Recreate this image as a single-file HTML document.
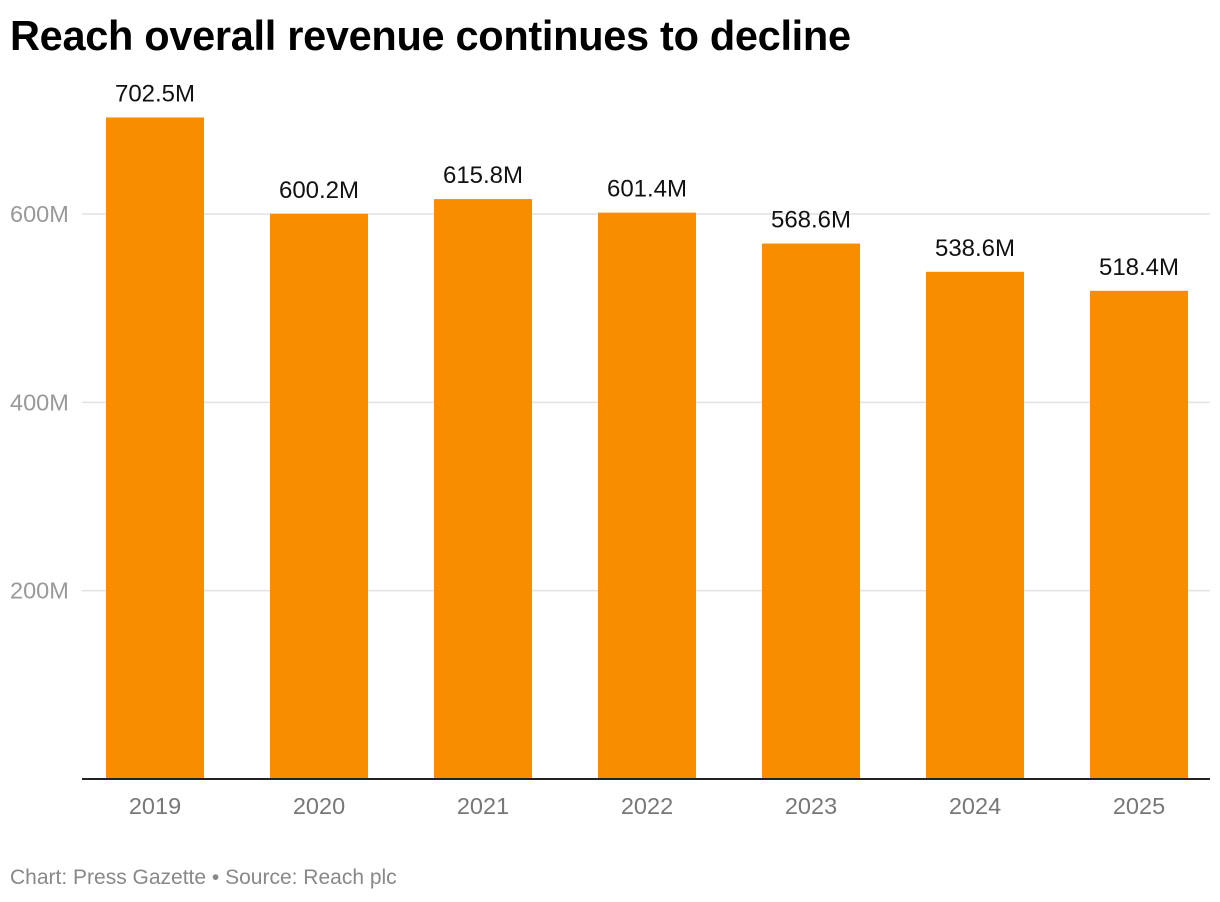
<!DOCTYPE html>
<html><head><meta charset="utf-8">
<style>
body{margin:0;background:#fff;width:1220px;height:902px;overflow:hidden;font-family:"Liberation Sans",Arial,sans-serif;}
#title{position:absolute;left:10px;top:12px;font-size:41.5px;font-weight:bold;color:#000;letter-spacing:-0.3px;margin:0}
#footer{position:absolute;left:10px;top:866px;font-size:21px;color:#888}
svg{position:absolute;left:0;top:0}
</style></head><body>
<h1 id="title">Reach overall revenue continues to decline</h1>
<svg id="chart" width="1220" height="902"></svg>
<div id="footer">Chart: Press Gazette • Source: Reach plc</div>
<script>
const categories=["2019","2020","2021","2022","2023","2024","2025"];
const values=[702.5,600.2,615.8,601.4,568.6,538.6,518.4];
const valueLabels=["702.5M","600.2M","615.8M","601.4M","568.6M","538.6M","518.4M"];
const yTicks=[200,400,600];
const yTickLabels=["200M","400M","600M"];
const NS="http://www.w3.org/2000/svg";
const svg=document.getElementById('chart');
const y0=779, pxPerM=0.9417;
const y=v=>y0-v*pxPerM;
const x=i=>155+i*164;
const barW=98;
function mk(tag,attrs,text){const e=document.createElementNS(NS,tag);for(const k in attrs)e.setAttribute(k,attrs[k]);if(text!==undefined)e.textContent=text;svg.appendChild(e);return e;}
yTicks.forEach((t,i)=>{
  const g=mk('line',{x1:82,x2:1210,y1:y(t),y2:y(t),stroke:'#e2e2e2','stroke-width':1.5});
  
  
  const l=mk('text',{x:10,y:y(t)+8,'font-size':23.5,fill:'#999','font-family':'Liberation Sans, sans-serif'},yTickLabels[i]);
  
  
});
categories.forEach((c,i)=>{
  const b=mk('rect',{x:x(i)-barW/2,y:y(values[i]),width:barW,height:values[i]*pxPerM,fill:'#F88D00'});
  
  
  const v=mk('text',{x:x(i),y:y(values[i])-16,'font-size':24,fill:'#111','text-anchor':'middle','font-family':'Liberation Sans, sans-serif'},valueLabels[i]);
  
  
  const xl=mk('text',{x:x(i),y:814,'font-size':23.5,fill:'#777','text-anchor':'middle','font-family':'Liberation Sans, sans-serif'},c);
  
  
});
const ax=mk('line',{x1:82,x2:1210,y1:y0,y2:y0,stroke:'#222','stroke-width':2});


</script>
</body></html>
